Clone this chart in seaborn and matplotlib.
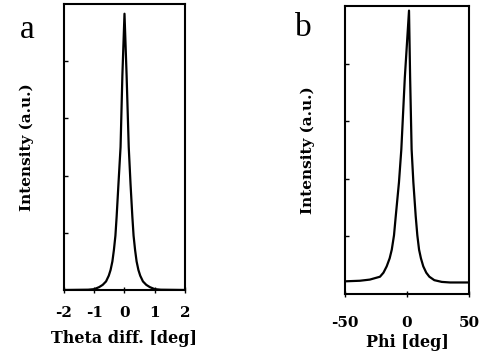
import pandas as pd
import seaborn as sns
import matplotlib.pyplot as plt

# Panel a: theta rocking curve
theta = [-2.0, -1.2, -1.0, -0.84, -0.72, -0.61, -0.52, -0.46, -0.40, -0.35, -0.30, -0.26, -0.20,
         -0.13, -0.07, 0.0, 0.07, 0.14, 0.20, 0.26, 0.30, 0.35, 0.40, 0.46, 0.52, 0.61, 0.72,
         0.84, 1.0, 1.2, 2.0]
theta_int = [0.0, 0.005, 0.015, 0.05, 0.09, 0.15, 0.25, 0.35, 0.50, 0.70, 0.95, 1.28, 1.85,
             2.5, 3.75, 4.83, 3.75, 2.5, 1.85, 1.28, 0.95, 0.70, 0.50, 0.35, 0.25, 0.15, 0.09,
             0.05, 0.015, 0.005, 0.0]

# Panel b: phi scan
phi = [-50, -38, -30, -21.8, -19, -16.4, -14, -12.3, -10.5, -9.1, -6.5, -4.6, -1.8, 1.6,
       2.5, 3.7, 5.1, 7.0, 8.3, 9.7, 11.2, 13.1, 15.5, 18, 22, 28, 34.7, 50]
phi_int = [0.22, 0.23, 0.25, 0.30, 0.37, 0.48, 0.62, 0.77, 1.02, 1.35, 1.94, 2.51, 3.75, 4.92,
           3.75, 2.51, 1.94, 1.35, 1.02, 0.77, 0.62, 0.48, 0.37, 0.30, 0.24, 0.21, 0.20, 0.20]

sns.set_style('ticks')
plt.rcParams['font.family'] = ['DejaVu Serif']
plt.rcParams['axes.unicode_minus'] = False
plt.rcParams['text.color'] = 'black'
plt.rcParams['axes.labelcolor'] = 'black'
plt.rcParams['xtick.color'] = 'black'
plt.rcParams['ytick.color'] = 'black'

fig = plt.figure(figsize=(4.79, 3.54), dpi=100)
ax1 = fig.add_axes([0.1336, 0.1808, 0.2526, 0.8079])
ax2 = fig.add_axes([0.7203, 0.1695, 0.2589, 0.8136])

df_a = pd.DataFrame({'theta': theta, 'I': theta_int})
df_b = pd.DataFrame({'phi': phi, 'I': phi_int})

sns.lineplot(data=df_a, x='theta', y='I', ax=ax1, color='black', linewidth=1.6, sort=False)
sns.lineplot(data=df_b, x='phi', y='I', ax=ax2, color='black', linewidth=1.6, sort=False)

for ax in (ax1, ax2):
    ax.set_ylim(0, 5)
    ax.set_yticks([1, 2, 3, 4])
    ax.set_yticklabels([])
    ax.tick_params(axis='y', direction='in', length=3, width=1, left=True)
    ax.tick_params(axis='x', direction='inout', length=5, width=1, labelsize=11)
    ax.set_ylabel('Intensity (a.u.)', fontsize=11, fontweight='bold', labelpad=18)
    for s in ax.spines.values():
        s.set_visible(True)
        s.set_linewidth(1.5)
        s.set_color('black')

ax1.set_xlim(-2, 2)
ax1.set_xticks([-2, -1, 0, 1, 2])
ax1.set_xticklabels(['-2', '-1', '0', '1', '2'], fontweight='bold')
ax1.tick_params(axis='x', pad=9)
ax1.set_xlabel('Theta diff. [deg]', fontsize=11.5, fontweight='bold', labelpad=7)

ax2.set_xlim(-50, 50)
ax2.set_xticks([-50, 0, 50])
ax2.set_xticklabels(['-50', '0', '50'], fontweight='bold')
ax2.tick_params(axis='x', pad=13)
ax2.set_xlabel('Phi [deg]', fontsize=11.5, fontweight='bold', labelpad=3)

fig.text(27 / 479, 1 - 30 / 354, 'a', fontsize=24, family='Liberation Serif', ha='center', va='center')
fig.text(303 / 479, 1 - 28 / 354, 'b', fontsize=24, family='Liberation Serif', ha='center', va='center')

plt.savefig('out.png', dpi=100)
